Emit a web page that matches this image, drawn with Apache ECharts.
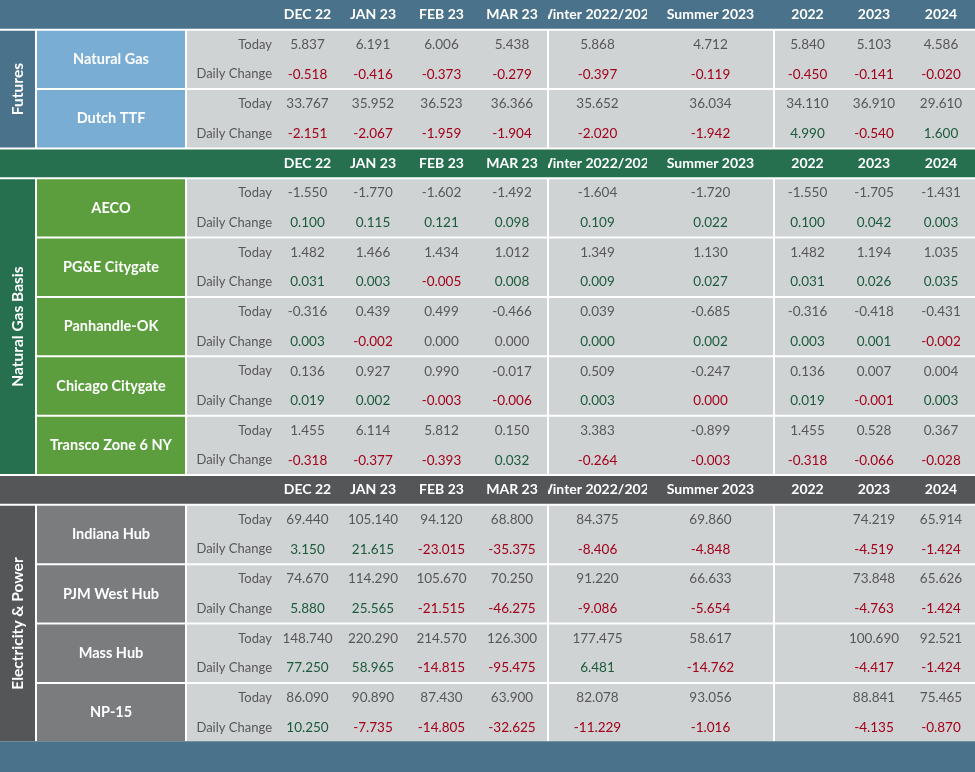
<!DOCTYPE html>
<html>
<head>
<meta charset="utf-8">
<style>
html, body { margin: 0; padding: 0; background: #ffffff; }
#main { width: 975px; height: 772px; }
</style>
<script src="https://cdn.jsdelivr.net/npm/echarts@6/dist/echarts.min.js"></script>
</head>
<body>
<div id="main"></div>
<script>
// column headers and row labels
var columns = ['DEC 22', 'JAN 23', 'FEB 23', 'MAR 23', 'Winter 2022/2023', 'Summer 2023', '2022', '2023', '2024'];
var rowKinds = ['Today', 'Daily Change'];

// Futures
var futuresNames = ['Natural Gas', 'Dutch TTF'];
var futuresToday = [
	[5.837, 6.191, 6.006, 5.438, 5.868, 4.712, 5.840, 5.103, 4.586],
	[33.767, 35.952, 36.523, 36.366, 35.652, 36.034, 34.110, 36.910, 29.610]
];
var futuresChange = [
	[-0.518, -0.416, -0.373, -0.279, -0.397, -0.119, -0.450, -0.141, -0.020],
	[-2.151, -2.067, -1.959, -1.904, -2.020, -1.942, 4.990, -0.540, 1.600]
];

// Natural Gas Basis (sign of the tiny changes taken from their colour)
var basisNames = ['AECO', 'PG&E Citygate', 'Panhandle-OK', 'Chicago Citygate', 'Transco Zone 6 NY'];
var basisToday = [
	[-1.550, -1.770, -1.602, -1.492, -1.604, -1.720, -1.550, -1.705, -1.431],
	[1.482, 1.466, 1.434, 1.012, 1.349, 1.130, 1.482, 1.194, 1.035],
	[-0.316, 0.439, 0.499, -0.466, 0.039, -0.685, -0.316, -0.418, -0.431],
	[0.136, 0.927, 0.990, -0.017, 0.509, -0.247, 0.136, 0.007, 0.004],
	[1.455, 6.114, 5.812, 0.150, 3.383, -0.899, 1.455, 0.528, 0.367]
];
var basisChange = [
	[0.100, 0.115, 0.121, 0.098, 0.109, 0.022, 0.100, 0.042, 0.003],
	[0.031, 0.003, -0.005, 0.008, 0.009, 0.027, 0.031, 0.026, 0.035],
	[0.003, -0.002, 0.000, 0.000, 0.0004, 0.002, 0.003, 0.001, -0.002],
	[0.019, 0.002, -0.003, -0.006, 0.003, -0.0004, 0.019, -0.001, 0.003],
	[-0.318, -0.377, -0.393, 0.032, -0.264, -0.003, -0.318, -0.066, -0.028]
];

// Electricity & Power
var powerNames = ['Indiana Hub', 'PJM West Hub', 'Mass Hub', 'NP-15'];
var powerToday = [
	[69.440, 105.140, 94.120, 68.800, 84.375, 69.860, null, 74.219, 65.914],
	[74.670, 114.290, 105.670, 70.250, 91.220, 66.633, null, 73.848, 65.626],
	[148.740, 220.290, 214.570, 126.300, 177.475, 58.617, null, 100.690, 92.521],
	[86.090, 90.890, 87.430, 63.900, 82.078, 93.056, null, 88.841, 75.465]
];
var powerChange = [
	[3.150, 21.615, -23.015, -35.375, -8.406, -4.848, null, -4.519, -1.424],
	[5.880, 25.565, -21.515, -46.275, -9.086, -5.654, null, -4.763, -1.424],
	[77.250, 58.965, -14.815, -95.475, 6.481, -14.762, null, -4.417, -1.424],
	[10.250, -7.735, -14.805, -32.625, -11.229, -1.016, null, -4.135, -0.870]
];

// layout: column edges on the x axis, rows in half-row units on the y axis
var WIDTH = 975;
var COL_EDGES = [0, 36, 186, 276, 339, 407, 476, 548, 647, 774, 841, 907, 975];
var GROUP_EDGES = [186, 548, 774, 975];
var ROW_UNITS = 26;
var FONT = 'Lato, "Open Sans", sans-serif';
var GRAY_TEXT = '#575757';
var UP = '#1b5a3c';
var DOWN = '#a3001b';
var DATA_BG = '#d0d3d4';
var FOOTER = '#4b728b';

var blocks = [
	{ title: 'Futures', names: futuresNames, today: futuresToday, change: futuresChange,
		head: '#4b728b', band: '#4b728b', cell: '#7aadd4' },
	{ title: 'Natural Gas Basis', names: basisNames, today: basisToday, change: basisChange,
		head: '#267050', band: '#267050', cell: '#5c9e3e' },
	{ title: 'Electricity & Power', names: powerNames, today: powerToday, change: powerChange,
		head: '#555658', band: '#555658', cell: '#7a7c7e' }
];

function fmt(v) {
	var s = Math.abs(v).toFixed(3);
	return (v < 0 && s !== '0.000' ? '-' : '') + s;
}

function changeColor(v) {
	if (v > 0) return UP;
	if (v < 0) return DOWN;
	return GRAY_TEXT;
}

var rects = [];
var texts = [];

function addRect(x0, x1, y0, y1, fill, gapTop) {
	rects.push({ box: [x0, y0, x1, y1], fill: fill, gapTop: gapTop });
}

function addText(x0, x1, y0, y1, text, opt) {
	texts.push({ box: [x0, y0, x1, y1], text: text, opt: opt });
}

var row = 0;
blocks.forEach(function(b) {
	// header row of the block
	addRect(0, WIDTH, row, row + 1, b.head);
	columns.forEach(function(c, i) {
		addText(COL_EDGES[3 + i], COL_EDGES[4 + i], row, row + 1, c,
			{ color: '#ffffff', weight: 'bold', size: 14, clip: true });
	});
	row += 1;
	var start = row;

	b.names.forEach(function(name, k) {
		addRect(COL_EDGES[1], COL_EDGES[2], row, row + 2, b.cell);
		addText(COL_EDGES[1], COL_EDGES[2], row, row + 2, name,
			{ color: '#ffffff', weight: 'bold', size: 14.5 });
		for (var g = 0; g < GROUP_EDGES.length - 1; g++) {
			addRect(GROUP_EDGES[g], GROUP_EDGES[g + 1], row, row + 2, DATA_BG);
		}
		rowKinds.forEach(function(kind, j) {
			addText(COL_EDGES[2], COL_EDGES[3] - 4, row + j, row + j + 1, kind,
				{ color: GRAY_TEXT, size: 13, align: 'right' });
		});
		columns.forEach(function(c, i) {
			var t = b.today[k][i];
			var d = b.change[k][i];
			if (t != null) {
				addText(COL_EDGES[3 + i], COL_EDGES[4 + i], row, row + 1, fmt(t),
					{ color: GRAY_TEXT, size: 13.5 });
			}
			if (d != null) {
				addText(COL_EDGES[3 + i], COL_EDGES[4 + i], row + 1, row + 2, fmt(d),
					{ color: changeColor(d), size: 13.5 });
			}
		});
		row += 2;
	});

	// vertical band label
	addRect(COL_EDGES[0], COL_EDGES[1], start, row, b.band);
	addText(COL_EDGES[0], COL_EDGES[1], start, row, b.title,
		{ color: '#ffffff', weight: 'bold', size: 15.5, rotate: true });
});
addRect(0, WIDTH, row, ROW_UNITS, FOOTER, true);

function boxPixels(api) {
	var a = api.coord([api.value(0), api.value(1)]);
	var b = api.coord([api.value(2), api.value(3)]);
	return { x0: a[0], y0: Math.min(a[1], b[1]), x1: b[0], y1: Math.max(a[1], b[1]) };
}

function renderRect(params, api) {
	var r = rects[params.dataIndex];
	var p = boxPixels(api);
	// 1px inset on inner edges leaves 2px white rules between cells
	var l = p.x0 <= 0 ? p.x0 : p.x0 + 1;
	var t = p.y0 <= 0 ? p.y0 : (r.gapTop ? p.y0 - 1 : p.y0 + 1);
	var rr = p.x1 >= WIDTH ? p.x1 : p.x1 - 1;
	var bb = r.gapTop ? p.y1 : p.y1 - 1;
	return {
		type: 'rect',
		shape: { x: l, y: t, width: rr - l, height: bb - t },
		style: { fill: r.fill }
	};
}

function renderText(params, api) {
	var item = texts[params.dataIndex];
	var o = item.opt;
	var p = boxPixels(api);
	var cx = o.align === 'right' ? p.x1 : (p.x0 + p.x1) / 2;
	var cy = (p.y0 + p.y1) / 2;
	var el = {
		type: 'text',
		x: cx,
		y: cy,
		rotation: o.rotate ? Math.PI / 2 : 0,
		style: {
			text: item.text,
			fill: o.color,
			fontFamily: FONT,
			fontSize: o.size,
			fontWeight: o.weight || 'normal',
			align: o.align || 'center',
			verticalAlign: 'middle'
		}
	};
	if (!o.clip) {
		return el;
	}
	return {
		type: 'group',
		clipPath: {
			type: 'rect',
			shape: { x: p.x0, y: p.y0, width: p.x1 - p.x0, height: p.y1 - p.y0 }
		},
		children: [el]
	};
}

var chart = echarts.init(document.getElementById('main'));
chart.setOption({
	backgroundColor: '#ffffff',
	animation: false,
	grid: { left: 0, right: 0, top: 0, bottom: 0 },
	xAxis: { type: 'value', min: 0, max: WIDTH, show: false },
	yAxis: { type: 'value', min: 0, max: ROW_UNITS, inverse: true, show: false },
	series: [
		{
			type: 'custom',
			name: 'cells',
			renderItem: renderRect,
			encode: { x: [0, 2], y: [1, 3] },
			data: rects.map(function(r) { return r.box; }),
			silent: true
		},
		{
			type: 'custom',
			name: 'labels',
			renderItem: renderText,
			encode: { x: [0, 2], y: [1, 3] },
			data: texts.map(function(t) { return t.box; }),
			silent: true,
			z: 3
		}
	]
});
</script>
</body>
</html>
